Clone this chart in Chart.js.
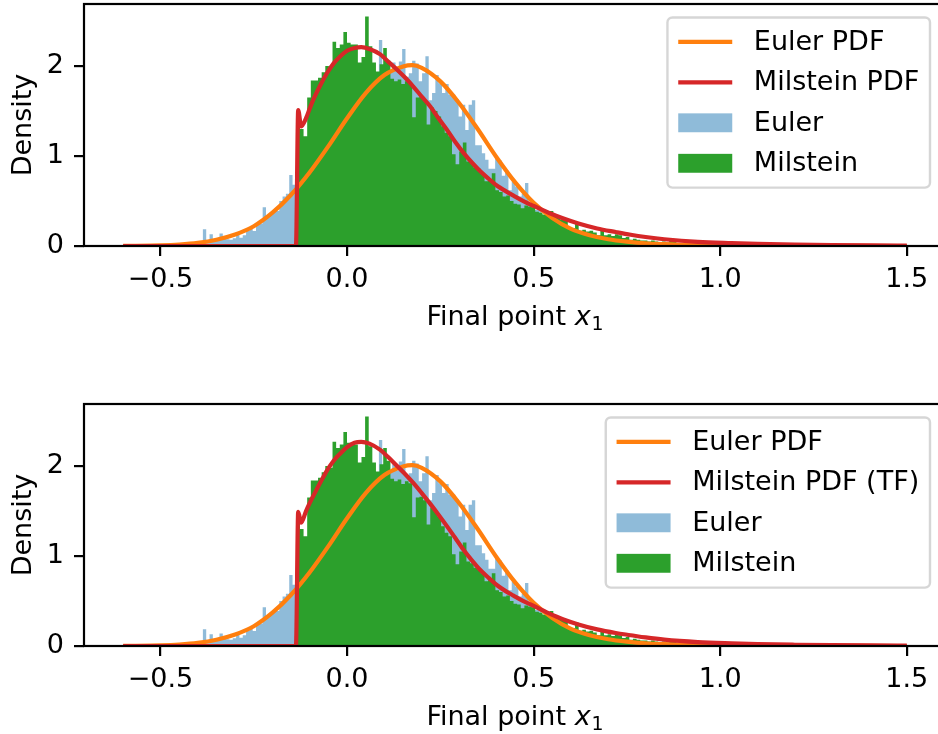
<!DOCTYPE html>
<html>
<head>
<meta charset="utf-8">
<script src="https://cdn.jsdelivr.net/npm/chart.js@4.4.0/dist/chart.umd.min.js"></script>
<style>
  html, body { margin: 0; padding: 0; background: #fff; width: 938px; height: 734px; overflow: hidden; }
  canvas { position: absolute; left: 0; }
  #top { top: 0; }
  #bottom { top: 400px; }
</style>
</head>
<body>
<canvas id="top" width="960" height="334"></canvas>
<canvas id="bottom" width="960" height="334"></canvas>
<script>
// histogram bins: left edge, bin width and density of each bin
const eulerBinStart = -0.422;
const eulerBinWidth = 0.0089;
const eulerDensity = [
  0.056, 0, 0, 0, 0.02, 0.185, 0.03, 0.13, 0.056, 0.06, 0.14, 0.085, 0.074, 0.07, 0.085, 0.13,
  0.093, 0.12, 0.167, 0.196, 0.167, 0.24, 0.25, 0.43, 0.32, 0.35, 0.39, 0.39, 0.50, 0.55, 0.58, 0.79,
  0.68, 0.66, 0.77, 0.75, 0.88, 0.86, 0.97, 0.95, 1.08, 1.06, 1.18, 1.19, 1.30, 1.28, 1.41, 1.39,
  1.52, 1.50, 1.62, 1.60, 1.70, 1.69, 1.80, 1.74, 1.88, 1.82, 2.29, 1.90, 1.99, 1.93, 2.04, 1.95,
  2.05, 2.19, 1.88, 1.92, 2.06, 2.03, 1.83, 1.92, 2.11, 1.62, 1.70, 1.90, 1.81, 1.70, 1.80, 1.68,
  1.68, 1.63, 1.44, 1.57, 1.29, 1.57, 1.62, 1.12, 1.12, 1.03, 0.96, 0.86, 0.86, 0.98, 0.95, 0.78,
  0.84, 0.62, 0.72, 0.66, 0.55, 0.58, 0.70, 0.47, 0.43, 0.40, 0.40, 0.33, 0.30, 0.31, 0.26, 0.22,
  0.24, 0.18, 0.20, 0.15, 0.16, 0.12, 0.13, 0.10, 0.09, 0.10, 0.07, 0.06, 0.07, 0.05, 0.04, 0.05,
  0.03, 0.03, 0.04, 0.02, 0.02, 0.03, 0.01, 0.02, 0.01, 0.01, 0, 0.01, 0.01, 0, 0, 0.01
];
const milsteinBinStart = -0.136;
const milsteinBinWidth = 0.0097;
const milsteinDensity = [
  1.38, 1.36, 1.30, 1.22, 1.65, 1.84, 1.84, 1.87, 1.93, 2.00, 1.98, 2.27, 2.20, 2.24, 2.38, 2.26,
  2.24, 2.24, 2.04, 2.10, 2.55, 2.22, 2.04, 1.94, 2.02, 2.20, 2.06, 1.86, 1.83, 1.85, 1.80, 1.83,
  1.81, 1.43, 1.65, 1.66, 1.62, 1.35, 1.54, 1.50, 1.44, 1.33, 1.26, 1.22, 1.02, 0.91, 1.05, 1.15,
  0.94, 0.92, 0.87, 0.86, 0.80, 0.72, 0.74, 0.81, 0.62, 0.60, 0.55, 0.56, 0.50, 0.47, 0.46, 0.42,
  0.45, 0.44, 0.43, 0.38, 0.37, 0.35, 0.36, 0.39, 0.33, 0.31, 0.29, 0.28, 0.21, 0.20, 0.26, 0.17,
  0.18, 0.16, 0.17, 0.15, 0.12, 0.18, 0.12, 0.13, 0.11, 0.13, 0.12, 0.09, 0.10, 0.07, 0.08, 0.07,
  0.06, 0.06, 0.05, 0.06, 0.05, 0.04, 0.05, 0.04, 0.07, 0.06, 0.03, 0.03, 0.02, 0.03, 0.02, 0.02,
  0.01, 0.02, 0.01, 0.01, 0.01, 0, 0.01, 0.01, 0
];

// density curves
const eulerPdfX = [-0.6, -0.5, -0.45, -0.4, -0.35, -0.3, -0.25, -0.2, -0.15, -0.1, -0.05, 0.0,
  0.05, 0.1, 0.15, 0.175, 0.2, 0.25, 0.3, 0.35, 0.4, 0.45, 0.5, 0.55, 0.6, 0.65, 0.7, 0.75, 0.8,
  0.85, 0.9, 1.0, 1.1, 1.3, 1.5];
const eulerPdfY = [0.001, 0.008, 0.017, 0.035, 0.07, 0.128, 0.22, 0.37, 0.57, 0.82, 1.11, 1.42,
  1.70, 1.90, 1.995, 2.01, 1.98, 1.83, 1.59, 1.30, 0.99, 0.71, 0.48, 0.31, 0.19, 0.12, 0.075, 0.048,
  0.03, 0.02, 0.013, 0.006, 0.003, 0.001, 0.0];
const milsteinPdfX = [-0.6, -0.137, -0.131, -0.123, -0.11, -0.1, -0.089, -0.07, -0.054, -0.036,
  -0.018, 0.0, 0.02, 0.038, 0.06, 0.089, 0.11, 0.134, 0.156, 0.178, 0.2, 0.223, 0.245, 0.268, 0.29,
  0.312, 0.335, 0.357, 0.38, 0.402, 0.425, 0.446, 0.47, 0.5, 0.54, 0.58, 0.62, 0.67, 0.72, 0.76,
  0.8, 0.85, 0.94, 1.03, 1.1, 1.2, 1.3, 1.4, 1.5];
const milsteinPdfY = [0, 0, 1.51, 1.33, 1.42, 1.53, 1.64, 1.80, 1.92, 2.03, 2.11, 2.17, 2.20, 2.21,
  2.19, 2.13, 2.05, 1.96, 1.87, 1.77, 1.66, 1.55, 1.42, 1.29, 1.155, 1.035, 0.925, 0.83, 0.745,
  0.67, 0.61, 0.56, 0.505, 0.445, 0.37, 0.305, 0.25, 0.195, 0.155, 0.125, 0.1, 0.075, 0.045, 0.031,
  0.023, 0.015, 0.01, 0.007, 0.005];
const milsteinTfPdfY = [0, 0, 1.49, 1.37, 1.50, 1.59, 1.68, 1.83, 1.95, 2.06, 2.14, 2.21, 2.26,
  2.27, 2.25, 2.18, 2.10, 2.00, 1.91, 1.81, 1.70, 1.58, 1.46, 1.33, 1.20, 1.07, 0.95, 0.845, 0.755,
  0.675, 0.61, 0.56, 0.505, 0.445, 0.365, 0.295, 0.24, 0.185, 0.145, 0.12, 0.095, 0.07, 0.043,
  0.029, 0.021, 0.014, 0.009, 0.006, 0.004];

const xTicks = [-0.5, 0.0, 0.5, 1.0, 1.5];
const X_MIN = -0.705, X_MAX = 1.605, Y_MAX = 2.69;

const FS = 27;
const FONT = 'DejaVu Sans';
const LW = 4.2;
Chart.defaults.font.family = FONT;
Chart.defaults.color = '#000';

// one point per bin edge; a stepped line filled to zero gives the histogram
function histSteps(start, width, dens) {
  const pts = dens.map((d, i) => ({ x: start + i * width, y: d }));
  pts.push({ x: start + dens.length * width, y: 0 });
  return pts;
}
function curvePoints(xs, ys) {
  return xs.map((x, i) => ({ x: x, y: ys[i] }));
}

// spines, legend box and x label
const decor = {
  id: 'decor',
  afterDatasetsDraw(chart) {
    const ctx = chart.ctx, a = chart.chartArea;
    ctx.save();
    ctx.strokeStyle = '#000';
    ctx.lineWidth = 2.2;
    ctx.strokeRect(a.left, a.top, a.right - a.left, a.bottom - a.top);
    ctx.restore();
  },
  afterDraw(chart) {
    const ctx = chart.ctx, a = chart.chartArea;
    const sets = chart.data.datasets;
    ctx.save();
    // legend
    ctx.font = FS + 'px "' + FONT + '"';
    let tw = 0;
    sets.forEach(d => { tw = Math.max(tw, ctx.measureText(d.label).width); });
    const pad = 0.4 * FS, hl = 2 * FS, htp = 0.8 * FS, row = 1.5 * FS;
    const w = pad * 2 + hl + htp + tw;
    const h = pad * 2 + sets.length * FS + (sets.length - 1) * 0.5 * FS;
    const bx = a.right - 16 - w, by = a.top + 0.5 * FS;
    ctx.beginPath();
    ctx.roundRect(bx, by, w, h, 5);
    ctx.fillStyle = 'rgba(255,255,255,0.8)';
    ctx.fill();
    ctx.lineWidth = 2.4;
    ctx.strokeStyle = 'rgba(204,204,204,0.8)';
    ctx.stroke();
    sets.forEach((d, i) => {
      const cy = by + pad + FS / 2 + i * row;
      const hx = bx + pad;
      if (!d.fill) {
        ctx.strokeStyle = d.borderColor;
        ctx.lineWidth = LW;
        ctx.beginPath();
        ctx.moveTo(hx, cy);
        ctx.lineTo(hx + hl, cy);
        ctx.stroke();
      } else {
        ctx.fillStyle = d.backgroundColor;
        ctx.fillRect(hx, cy - 0.35 * FS, hl, 0.7 * FS);
      }
      ctx.fillStyle = '#000';
      ctx.textBaseline = 'middle';
      ctx.textAlign = 'left';
      ctx.fillText(d.label, hx + hl + htp, cy + 1);
    });
    // x axis label: Final point x_1
    const base = a.bottom + 79;
    const t1 = 'Final point ';
    ctx.textBaseline = 'alphabetic';
    ctx.font = FS + 'px "' + FONT + '"';
    const w1 = ctx.measureText(t1).width;
    ctx.font = 'italic ' + FS + 'px "' + FONT + '"';
    const w2 = ctx.measureText('x').width;
    ctx.font = (FS * 0.7) + 'px "' + FONT + '"';
    const w3 = ctx.measureText('1').width;
    let x0 = (a.left + a.right) / 2 - (w1 + w2 + w3 + 1) / 2;
    ctx.fillStyle = '#000';
    ctx.font = FS + 'px "' + FONT + '"';
    ctx.fillText(t1, x0, base);
    ctx.font = 'italic ' + FS + 'px "' + FONT + '"';
    ctx.fillText('x', x0 + w1, base);
    ctx.font = (FS * 0.7) + 'px "' + FONT + '"';
    ctx.fillText('1', x0 + w1 + w2 + 1, base + 5);
    ctx.restore();
  }
};

function fmtTick(v) {
  return v.toFixed(1).replace('-', '\u2212');
}

function makeChart(id, milsteinLabel, milsteinCurve) {
  const gridOpts = {
    drawOnChartArea: false, drawTicks: true, tickLength: 10,
    tickWidth: 2.2, tickColor: '#000', lineWidth: 2.2, color: '#000', offset: false
  };
  return new Chart(document.getElementById(id), {
    type: 'line',
    data: {
      datasets: [
        {
          label: 'Euler PDF', order: 1,
          data: curvePoints(eulerPdfX, eulerPdfY),
          borderColor: '#ff7f0e', borderWidth: LW, pointRadius: 0,
          cubicInterpolationMode: 'monotone', borderJoinStyle: 'round', fill: false
        },
        {
          label: milsteinLabel, order: 0,
          data: curvePoints(milsteinPdfX, milsteinCurve),
          borderColor: '#d62728', borderWidth: LW, pointRadius: 0,
          cubicInterpolationMode: 'monotone', borderJoinStyle: 'round', fill: false
        },
        {
          label: 'Euler', order: 3,
          data: histSteps(eulerBinStart, eulerBinWidth, eulerDensity),
          stepped: 'after', fill: 'origin',
          backgroundColor: 'rgba(31,119,180,0.5)', borderColor: 'rgba(31,119,180,0.5)',
          borderWidth: 0, pointRadius: 0
        },
        {
          label: 'Milstein', order: 2,
          data: histSteps(milsteinBinStart, milsteinBinWidth, milsteinDensity),
          stepped: 'after', fill: 'origin',
          backgroundColor: '#2ca02c', borderColor: '#2ca02c',
          borderWidth: 0, pointRadius: 0
        }
      ]
    },
    options: {
      responsive: false,
      animation: false,
      events: [],
      layout: { padding: { left: 0, right: 14, top: 4, bottom: 0 } },
      plugins: { legend: { display: false }, tooltip: { enabled: false } },
      scales: {
        x: {
          type: 'linear', position: 'bottom', min: X_MIN, max: X_MAX, offset: false,
          grid: gridOpts, border: { display: false },
          afterBuildTicks: s => { s.ticks = xTicks.map(v => ({ value: v })); },
          ticks: {
            autoSkip: false, maxRotation: 0, padding: 8, color: '#000',
            font: { size: FS }, callback: v => fmtTick(v)
          },
          afterFit: s => { s.height = 88; s.paddingLeft = 0; s.paddingRight = 0; }
        },
        y: {
          type: 'linear', position: 'left', min: 0, max: Y_MAX,
          grid: gridOpts, border: { display: false },
          ticks: {
            stepSize: 1, includeBounds: false, padding: 10, color: '#000',
            font: { size: FS }, callback: v => String(v)
          },
          title: {
            display: true, text: 'Density', color: '#000',
            font: { size: FS }, padding: { top: 8, bottom: 0 }
          },
          afterFit: s => { s.width = 84; s.paddingTop = 0; s.paddingBottom = 0; }
        }
      }
    },
    plugins: [decor]
  });
}

makeChart('top', 'Milstein PDF', milsteinPdfY);
makeChart('bottom', 'Milstein PDF (TF)', milsteinTfPdfY);
</script>
</body>
</html>
